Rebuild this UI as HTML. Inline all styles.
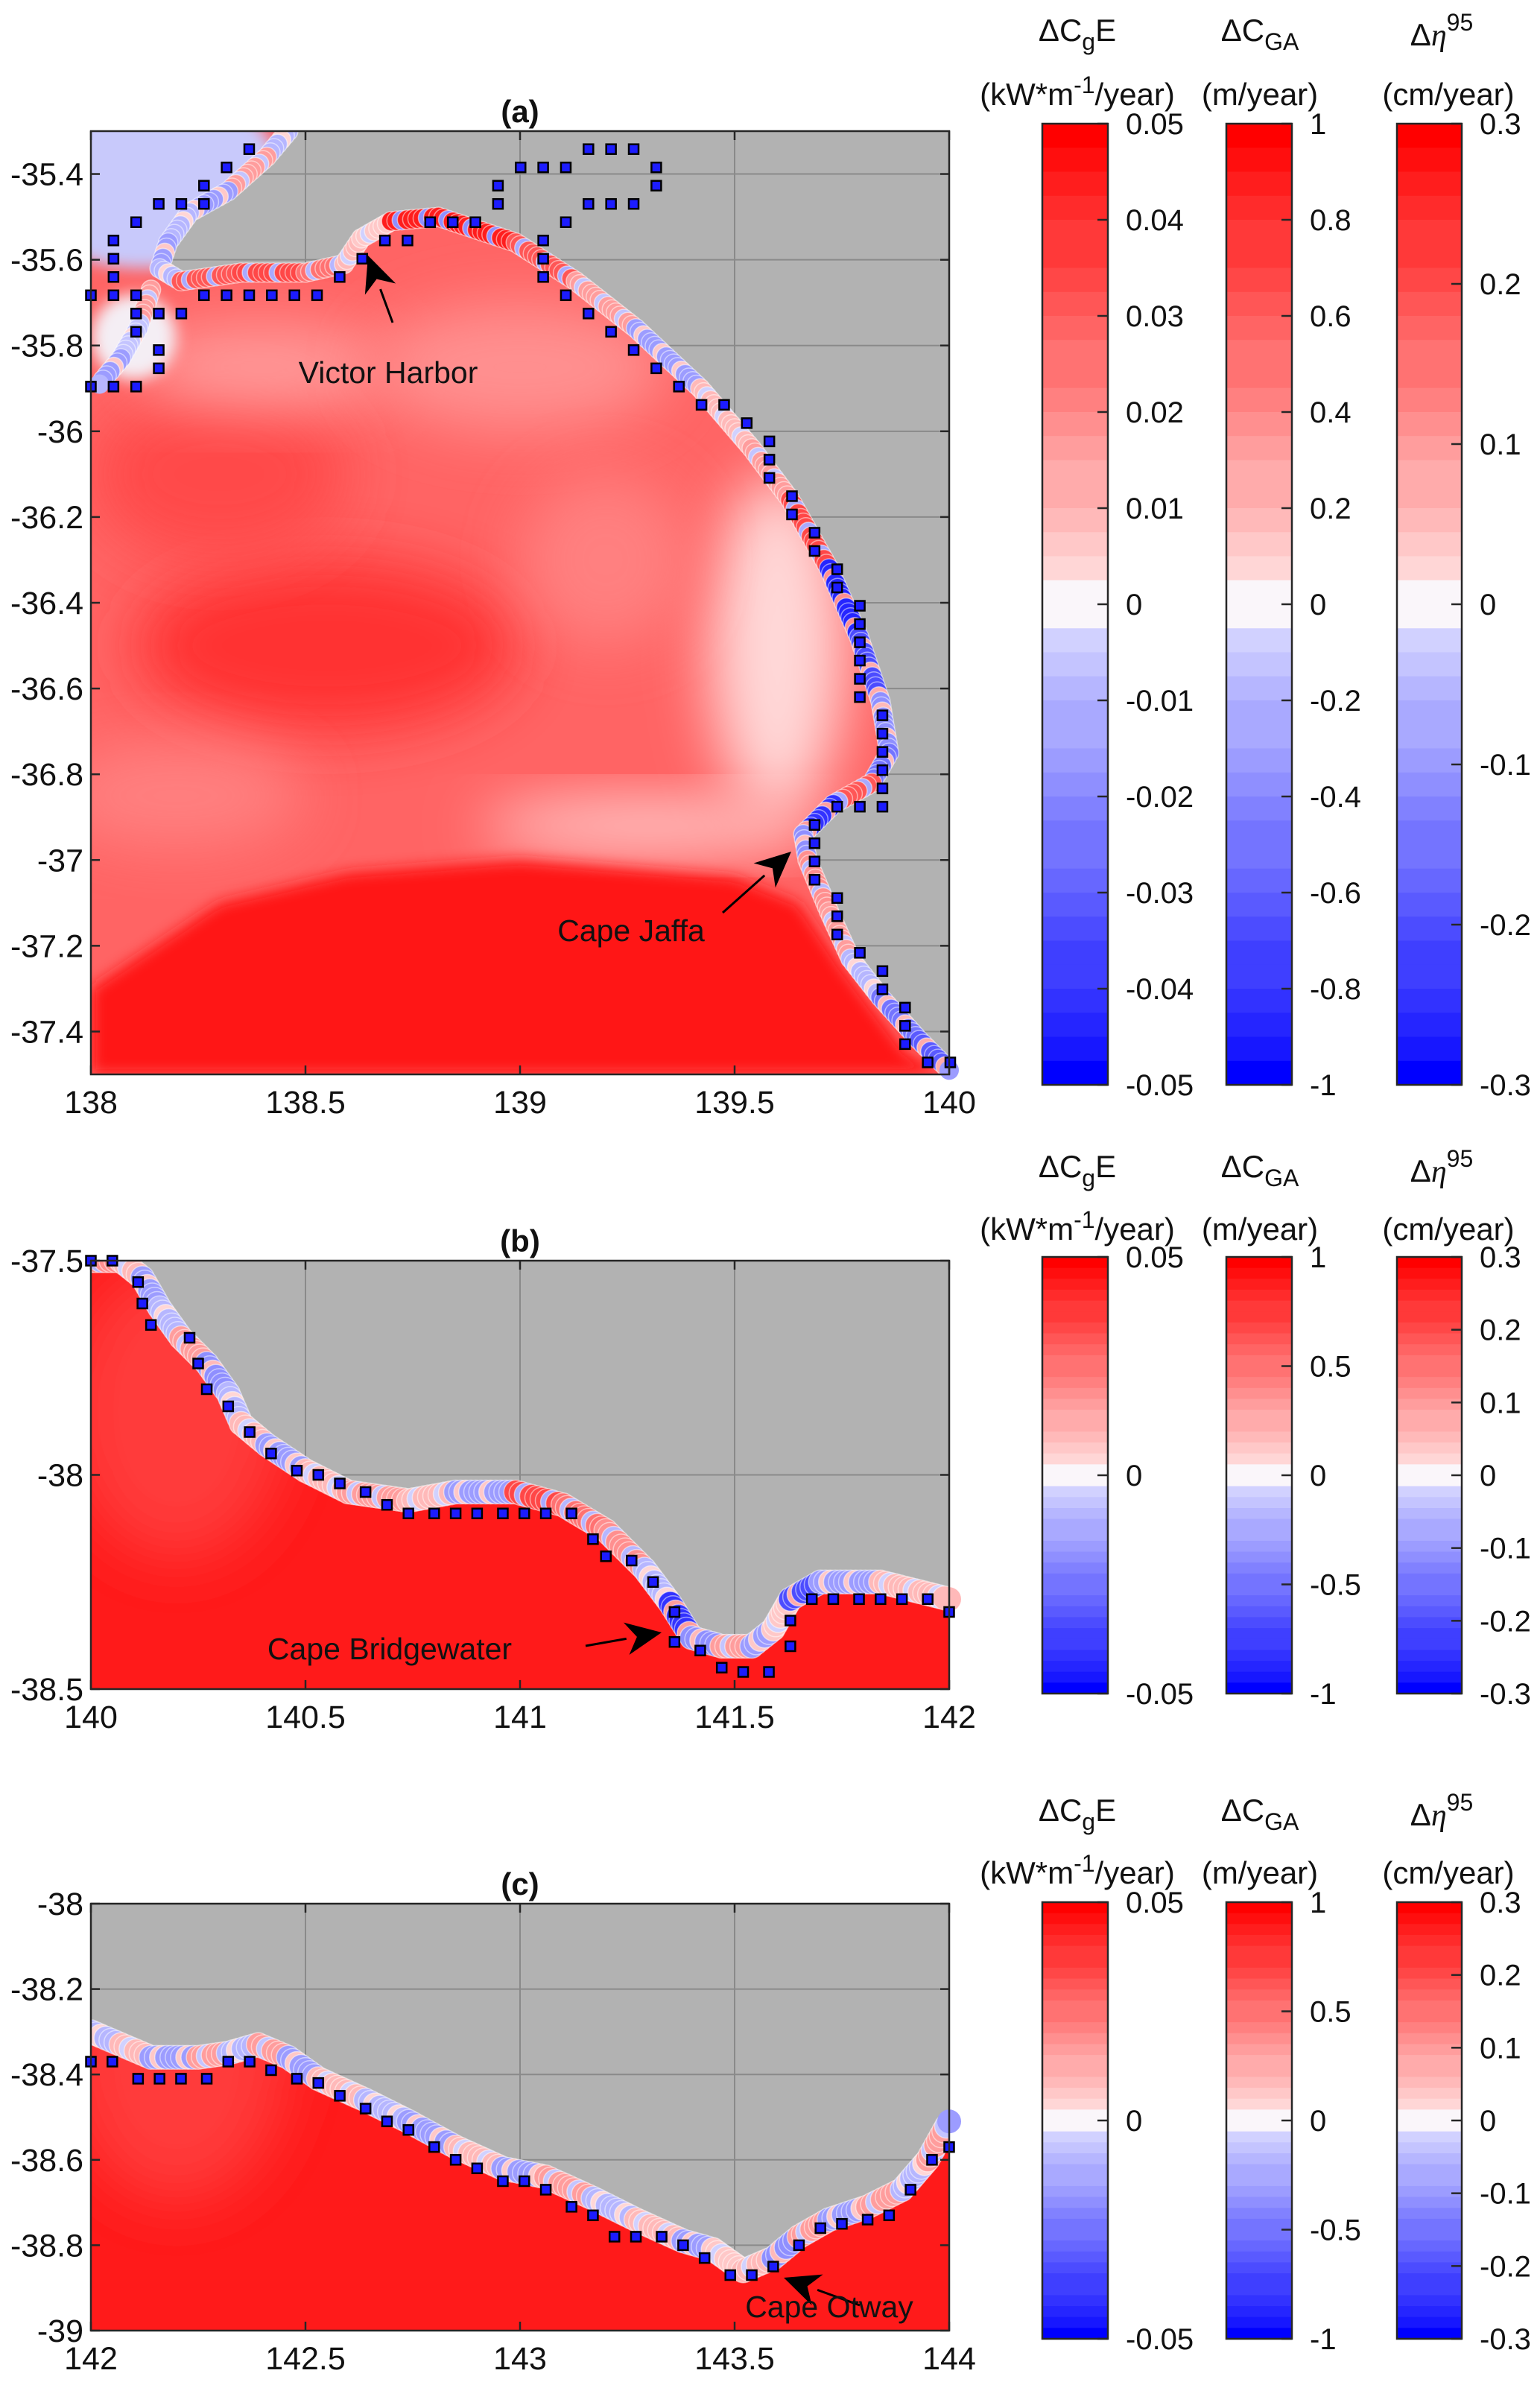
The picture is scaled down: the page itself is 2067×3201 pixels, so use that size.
<!DOCTYPE html>
<html><head><meta charset="utf-8">
<style>
html,body{margin:0;padding:0;background:#fff;}
svg{display:block;}
text{font-family:"Liberation Sans",Arial,sans-serif;fill:#111;}
</style></head>
<body>
<svg id="fig" width="2067" height="3201" viewBox="0 0 2067 3201" xmlns="http://www.w3.org/2000/svg">
<defs>
<filter id="blur" x="-50%" y="-50%" width="200%" height="200%"><feGaussianBlur stdDeviation="40"/></filter>
<filter id="blurS" x="-20%" y="-20%" width="140%" height="140%"><feGaussianBlur stdDeviation="10"/></filter>
</defs>
</svg>
<script>
// ---------------- DATA ----------------
const coastLonA=[138.46,138.41,138.32,138.23,138.18,138.16,138.21,138.35,138.50,138.59,138.63,138.70,138.81,138.99,139.13,139.27,139.42,139.54,139.63,139.72,139.79,139.84,139.86,139.82,139.73,139.66,139.67,139.72,139.77,139.84,139.93,140.00];
const coastLatA=[-35.30,-35.36,-35.44,-35.49,-35.56,-35.62,-35.65,-35.63,-35.63,-35.61,-35.55,-35.51,-35.50,-35.56,-35.65,-35.76,-35.90,-36.04,-36.16,-36.32,-36.48,-36.63,-36.75,-36.82,-36.87,-36.94,-37.00,-37.12,-37.23,-37.32,-37.42,-37.49];
const coastValA=[-0.2,0.3,-0.3,-0.2,-0.3,-0.2,0.6,0.7,0.5,0.2,0.1,0.9,0.9,0.6,0.3,-0.3,0.2,0.3,0.7,-0.9,-0.7,-0.4,-0.5,0.6,-0.8,-0.4,0.4,0.3,-0.2,-0.5,-0.6,-0.3];
const coast2LonA=[138.14,138.11,138.07,138.02];
const coast2LatA=[-35.67,-35.76,-35.83,-35.89];
const coast2ValA=[0.3,-0.1,-0.3,-0.2];
const gridA={lon0:138,dlon:0.0527,lat0:-35.342,dlat:-0.0426};
const sqColA=[7,6,5,5,4,3,2,1,1,1,0,1,2,2,3,4,2,3,3,0,1,2,5,6,7,8,9,10,11,12,13,14,15,16,17,18,18,19,20,21,22,23,24,25,25,24,23,22,21,20,20,20,21,22,23,24,25,26,27,28,29,30,30,30,31,31,32,32,33,33,34,34,34,34,34,34,35,35,35,35,35,35,34,33,32,32,32,32,33,33,33,34,35,35,36,36,36,37,38];
const sqRowA=[0,1,2,3,3,3,4,5,6,7,8,8,8,9,9,9,10,11,12,13,13,13,8,8,8,8,8,8,7,6,5,5,4,4,4,3,2,1,1,1,0,0,0,1,2,3,3,3,4,5,6,7,8,9,10,11,12,13,14,14,15,16,17,18,19,20,21,22,23,24,25,26,27,28,29,30,31,32,33,34,35,36,36,36,37,38,39,40,41,42,43,44,45,46,47,48,49,50,50];
const coastLonB=[140.00,140.07,140.12,140.16,140.21,140.27,140.32,140.35,140.41,140.50,140.60,140.74,140.85,140.99,141.10,141.20,141.29,141.35,141.40,141.47,141.54,141.59,141.63,141.70,141.84,142.00];
const coastLatB=[-37.50,-37.50,-37.54,-37.61,-37.68,-37.74,-37.81,-37.88,-37.93,-37.99,-38.04,-38.06,-38.04,-38.04,-38.07,-38.13,-38.22,-38.30,-38.38,-38.40,-38.40,-38.36,-38.29,-38.25,-38.25,-38.29];
const coastValB=[0.4,0.2,-0.3,-0.2,0.3,-0.4,-0.2,0.2,-0.3,0.2,0.3,0.2,-0.3,0.7,0.5,0.4,-0.2,-0.8,-0.4,0.3,-0.3,0.1,-0.7,-0.3,0.2,0.2];
const sqLonB=[140.00,140.05,140.11,140.12,140.14,140.23,140.25,140.27,140.32,140.37,140.42,140.48,140.53,140.58,140.64,140.69,140.74,140.80,140.85,140.90,140.96,141.01,141.06,141.12,141.17,141.20,141.26,141.31,141.36,141.36,141.42,141.47,141.52,141.58,141.63,141.63,141.68,141.73,141.79,141.84,141.89,141.95,142.00];
const sqLatB=[-37.50,-37.50,-37.55,-37.60,-37.65,-37.68,-37.74,-37.80,-37.84,-37.90,-37.95,-37.99,-38.00,-38.02,-38.04,-38.07,-38.09,-38.09,-38.09,-38.09,-38.09,-38.09,-38.09,-38.09,-38.15,-38.19,-38.20,-38.25,-38.32,-38.39,-38.41,-38.45,-38.46,-38.46,-38.40,-38.34,-38.29,-38.29,-38.29,-38.29,-38.29,-38.29,-38.32];
const coastLonC=[142.00,142.07,142.14,142.25,142.32,142.39,142.46,142.53,142.64,142.74,142.85,142.96,143.06,143.17,143.27,143.38,143.45,143.52,143.59,143.65,143.72,143.81,143.89,143.95,144.00];
const coastLatC=[-38.30,-38.33,-38.36,-38.36,-38.35,-38.33,-38.36,-38.41,-38.46,-38.51,-38.57,-38.62,-38.64,-38.69,-38.74,-38.79,-38.81,-38.86,-38.83,-38.78,-38.74,-38.71,-38.67,-38.60,-38.51];
const coastValC=[-0.2,0.2,-0.3,0.3,-0.2,0.3,-0.3,0.2,-0.2,-0.3,0.2,-0.3,0.3,-0.2,0.2,-0.3,0.1,0.2,-0.4,0.3,-0.3,0.3,-0.2,0.3,-0.3];
const sqLonC=[142.00,142.05,142.11,142.16,142.21,142.27,142.32,142.37,142.42,142.48,142.53,142.58,142.64,142.69,142.74,142.80,142.85,142.90,142.96,143.01,143.06,143.12,143.17,143.22,143.27,143.33,143.38,143.43,143.49,143.54,143.59,143.65,143.70,143.75,143.81,143.86,143.91,143.96,144.00];
const sqLatC=[-38.37,-38.37,-38.41,-38.41,-38.41,-38.41,-38.37,-38.37,-38.39,-38.41,-38.42,-38.45,-38.48,-38.51,-38.53,-38.57,-38.60,-38.62,-38.65,-38.65,-38.67,-38.71,-38.73,-38.78,-38.78,-38.78,-38.80,-38.83,-38.87,-38.87,-38.85,-38.80,-38.76,-38.75,-38.74,-38.73,-38.67,-38.60,-38.57];
const xTicksA=[138,138.5,139,139.5,140], yTicksA=[-35.4,-35.6,-35.8,-36,-36.2,-36.4,-36.6,-36.8,-37,-37.2,-37.4];
const xTicksB=[140,140.5,141,141.5,142], yTicksB=[-37.5,-38,-38.5];
const xTicksC=[142,142.5,143,143.5,144], yTicksC=[-38,-38.2,-38.4,-38.6,-38.8,-39];
const cbTicksA=[[0.05,0.04,0.03,0.02,0.01,0,-0.01,-0.02,-0.03,-0.04,-0.05],[1,0.8,0.6,0.4,0.2,0,-0.2,-0.4,-0.6,-0.8,-1],[0.3,0.2,0.1,0,-0.1,-0.2,-0.3]];
const cbTicksBC=[[0.05,0,-0.05],[1,0.5,0,-0.5,-1],[0.3,0.2,0.1,0,-0.1,-0.2,-0.3]];
const cbMax=[0.05,1,0.3];

// ---------------- DRAW ----------------
const NS='http://www.w3.org/2000/svg';
const svg=document.getElementById('fig');
function mk(tag,attrs,parent){const e=document.createElementNS(NS,tag);for(const k in attrs)e.setAttribute(k,attrs[k]);(parent||svg).appendChild(e);return e;}
function cmap(v){v=Math.max(-1,Math.min(1,v));const q=Math.round(v*16)/16;
 if(Math.abs(v)<0.03)return 'rgb(250,246,250)';
 if(q>=0){const g=Math.round(228*(1-q));return `rgb(255,${g},${g})`;}
 const a=-q;const r=Math.round(222*(1-a)+10*a);return `rgb(${r},${r},255)`;}

const panels=[
 {id:'a',lon:[138,140],lat:[-35.3,-37.5],x:[122,1274],y:[176,1442],xt:xTicksA,yt:yTicksA,cb:cbTicksA,cby:[166,1456],lab:[55,141],
  coast:[coastLonA,coastLatA,coastValA],r:13,sea:'#ff6464'},
 {id:'b',lon:[140,142],lat:[-37.5,-38.5],x:[122,1274],y:[1692,2267],xt:xTicksB,yt:yTicksB,cb:cbTicksBC,cby:[1687,2273],lab:[1580,1664],
  coast:[coastLonB,coastLatB,coastValB],r:16,sea:'#ff1a1a'},
 {id:'c',lon:[142,144],lat:[-38,-39],x:[122,1274],y:[2555,3128],xt:xTicksC,yt:yTicksC,cb:cbTicksBC,cby:[2553,3139],lab:[2444,2528],
  coast:[coastLonC,coastLatC,coastValC],r:16,sea:'#ff1a1a'}
];
const cbX=[[1399,1487],[1646,1734],[1875,1962]];

panels.forEach(P=>{
 const X=lon=>P.x[0]+(lon-P.lon[0])/(P.lon[1]-P.lon[0])*(P.x[1]-P.x[0]);
 const Y=lat=>P.y[0]+(lat-P.lat[0])/(P.lat[1]-P.lat[0])*(P.y[1]-P.y[0]);
 const g=mk('g',{});
 
 
 const w=P.x[1]-P.x[0],h=P.y[1]-P.y[0];
 const cp=mk('clipPath',{id:'clip'+P.id},g);mk('rect',{x:P.x[0],y:P.y[0],width:w,height:h},cp);
 const land=mk('rect',{x:P.x[0],y:P.y[0],width:w,height:h,fill:'#b2b2b2'},g);
 
 
 P.xt.forEach(t=>{const l=mk('line',{x1:X(t),x2:X(t),y1:P.y[0],y2:P.y[1],stroke:'#8a8a8a','stroke-width':2},g);
  });
 P.yt.forEach(t=>{const l=mk('line',{x1:P.x[0],x2:P.x[1],y1:Y(t),y2:Y(t),stroke:'#8a8a8a','stroke-width':2},g);
  });
 const inner=mk('g',{'clip-path':'url(#clip'+P.id+')'},g);
 const [cl,ct,cv]=P.coast;
 let pts=[];
 if(P.id==='a'){pts.push([138,-35.3]);}
 else {pts.push([P.lon[0],P.lat[1]]);}
 for(let i=0;i<cl.length;i++)pts.push([cl[i],ct[i]]);
 if(P.id==='a'){pts.push([140,-37.5]);pts.push([138,-37.5]);}
 else {pts.push([P.lon[1],P.lat[1]]);}
 const spts=pts.map(p=>X(p[0]).toFixed(1)+','+Y(p[1]).toFixed(1)).join(' ');
 const scp=mk('clipPath',{id:'sea'+P.id},g);mk('polygon',{points:spts},scp);
 const sea=mk('g',{'clip-path':'url(#sea'+P.id+')'},inner);
 
 
 mk('polygon',{points:spts,fill:P.sea},sea);
 if(P.id==='a'){
  const blobs=[[138.55,-36.5,0.45,0.2,'#ff3030'],[138.3,-36.1,0.3,0.2,'#ff4848'],[139.6,-36.5,0.16,0.4,'#ffd8d8'],[139.3,-36.92,0.4,0.06,'#ffd0d0'],[138.4,-35.85,0.3,0.1,'#ff9a9a'],[139.0,-35.85,0.35,0.15,'#ff9090'],[138.2,-36.85,0.3,0.12,'#ff8080'],[139.2,-36.3,0.2,0.2,'#ff8080']];
  blobs.forEach(b=>mk('ellipse',{cx:X(b[0]),cy:Y(b[1]),rx:b[2]*570,ry:b[3]*575,fill:b[4],filter:'url(#blur)'},sea));
  mk('ellipse',{cx:X(138.12),cy:Y(-35.4),rx:0.32*570,ry:0.22*575,fill:'#c8c9fb',filter:'url(#blurS)'},sea);
  mk('ellipse',{cx:X(138.1),cy:Y(-35.78),rx:0.1*570,ry:0.1*575,fill:'#f4eef4',filter:'url(#blurS)'},sea);
  const deep=[[138,-37.3],[138.3,-37.1],[138.6,-37.03],[139.0,-37.0],[139.5,-37.04],[139.65,-37.1],[139.75,-37.25],[139.9,-37.45],[140,-37.5],[138,-37.5]];
  mk('polygon',{points:deep.map(p=>X(p[0])+','+Y(p[1])).join(' '),fill:'#ff1212',filter:'url(#blurS)'},sea);
 } else {
  mk('ellipse',{cx:X(P.lon[0]+0.2),cy:Y(P.lat[0]-0.35),rx:150,ry:200,fill:'#ff3a3a',filter:'url(#blur)'},sea);
 }
 function drawCoast(L,T,V,tag){
  for(let i=0;i<L.length-1;i++){
   const x1=X(L[i]),y1=Y(T[i]),x2=X(L[i+1]),y2=Y(T[i+1]);
   const n=Math.max(1,Math.round(Math.hypot(x2-x1,y2-y1)/7));
   for(let k=0;k<n;k++){const f=k/n;
    const c=mk('circle',{cx:x1+(x2-x1)*f,cy:y1+(y2-y1)*f,r:P.r,fill:cmap(k%5===2?-V[i]*0.4:V[i]),stroke:'rgba(255,255,255,0.5)','stroke-width':1.5},inner);
    
    }
  }
  const c=mk('circle',{cx:X(L[L.length-1]),cy:Y(T[T.length-1]),r:P.r,fill:cmap(V[V.length-1])},g);
  
  
 }
 drawCoast(cl,ct,cv,P.id);
 if(P.id==='a')drawCoast(coast2LonA,coast2LatA,coast2ValA,'a');
 let sl=[],st=[];
 if(P.id==='a'){for(let i=0;i<sqColA.length;i++){sl.push(gridA.lon0+sqColA[i]*gridA.dlon);st.push(gridA.lat0+sqRowA[i]*gridA.dlat);}}
 else if(P.id==='b'){sl=sqLonB;st=sqLatB;} else {sl=sqLonC;st=sqLatC;}
 for(let i=0;i<sl.length;i++){
  const s=mk('rect',{x:X(sl[i])-6.5,y:Y(st[i])-6.5,width:13,height:13,fill:'#1c1cff',stroke:'#000','stroke-width':2.5},g);
  
  
 }
 const box=mk('rect',{x:P.x[0],y:P.y[0],width:w,height:h,fill:'none',stroke:'#262626','stroke-width':2.5},g);
 
 
 P.xt.forEach(t=>{mk('line',{x1:X(t),x2:X(t),y1:P.y[1],y2:P.y[1]-12,stroke:'#262626','stroke-width':2.5},g);
  mk('line',{x1:X(t),x2:X(t),y1:P.y[0],y2:P.y[0]+12,stroke:'#262626','stroke-width':2.5},g);
  const tx=mk('text',{x:X(t),y:P.y[1]+52,'font-size':43,'text-anchor':'middle'},g);tx.textContent=String(t);
  });
 P.yt.forEach(t=>{mk('line',{x1:P.x[0],x2:P.x[0]+12,y1:Y(t),y2:Y(t),stroke:'#262626','stroke-width':2.5},g);
  mk('line',{x1:P.x[1],x2:P.x[1]-12,y1:Y(t),y2:Y(t),stroke:'#262626','stroke-width':2.5},g);
  const tx=mk('text',{x:112,y:Y(t)+15,'font-size':43,'text-anchor':'end'},g);tx.textContent=String(t);
  });
 const ttl=mk('text',{x:(P.x[0]+P.x[1])/2,y:P.y[0]-12,'font-size':42,'font-weight':'bold','text-anchor':'middle'},g);
 ttl.textContent='('+P.id+')';
 
 for(let c=0;c<3;c++){
  const [x0,x1]=cbX[c],[y0,y1]=P.cby;const cg=mk('g',{},g);
  
  
  const N=40,bh=(y1-y0)/N;
  for(let i=0;i<N;i++){const v=1-(i+0.5)/N*2;
   const col=i===0?'#ff0000':(i===N-1?'#0000ff':cmap(v));
   mk('rect',{x:x0,y:y0+i*bh,width:x1-x0,height:bh+0.6,fill:col},cg);}
  mk('rect',{x:x0,y:y0,width:x1-x0,height:y1-y0,fill:'none',stroke:'#262626','stroke-width':2.5},cg);
  const M=cbMax[c];
  P.cb[c].forEach(t=>{const yy=y0+(M-t)/(2*M)*(y1-y0);
   mk('line',{x1:x1,x2:x1-14,y1:yy,y2:yy,stroke:'#262626','stroke-width':2.5},cg);
   const tx=mk('text',{x:x1+24,y:yy+14,'font-size':40},cg);tx.textContent=String(t);
   });
 }
 const l1=mk('text',{x:1446,y:P.lab[0],'font-size':42,'text-anchor':'middle'},g);
 l1.innerHTML='ΔC<tspan font-size="32" dy="12">g</tspan><tspan dy="-12">E</tspan>';
 
 const u1=mk('text',{x:1446,y:P.lab[1],'font-size':42,'text-anchor':'middle'},g);
 u1.innerHTML='(kW*m<tspan font-size="32" dy="-16">-1</tspan><tspan dy="16">/year)</tspan>';
 
 const l2=mk('text',{x:1691,y:P.lab[0],'font-size':42,'text-anchor':'middle'},g);
 l2.innerHTML='ΔC<tspan font-size="32" dy="12">GA</tspan>';
 
 const u2=mk('text',{x:1691,y:P.lab[1],'font-size':42,'text-anchor':'middle'},g);
 u2.textContent='(m/year)';
 
 const l3=mk('text',{x:1935,y:P.lab[0]+6,'font-size':42,'text-anchor':'middle'},g);
 l3.innerHTML='Δ<tspan font-style="italic" font-family="Liberation Serif, serif">η</tspan><tspan font-size="32" dy="-20">95</tspan>';
 
 const u3=mk('text',{x:1944,y:P.lab[1],'font-size':42,'text-anchor':'middle'},g);
 u3.textContent='(cm/year)';
 
});

function arrow(x1,y1,x2,y2,name){
 const g=mk('g',{});
 
 
 const a=Math.atan2(y2-y1,x2-x1),L=48,W=22;
 const bx=x2-L*Math.cos(a),by=y2-L*Math.sin(a);
 mk('line',{x1:x1,y1:y1,x2:bx,y2:by,stroke:'#000','stroke-width':3},g);
 const nx=-Math.sin(a),ny=Math.cos(a);
 const ix=x2-L*0.7*Math.cos(a),iy=y2-L*0.7*Math.sin(a);
 mk('polygon',{points:`${x2},${y2} ${bx+nx*W},${by+ny*W} ${ix},${iy} ${bx-nx*W},${by-ny*W}`,fill:'#000'},g);
}
function label(x,y,t,name){const e=mk('text',{x:x,y:y,'font-size':41,'text-anchor':'middle'});e.textContent=t;
 }
arrow(527,433,494,343,'arrow-victor-harbor');
label(521,514,'Victor Harbor','label-victor-harbor');
arrow(970,1225,1062,1143,'arrow-cape-jaffa');
label(847,1263,'Cape Jaffa','label-cape-jaffa');
arrow(786,2209,888,2191,'arrow-cape-bridgewater');
label(523,2227,'Cape Bridgewater','label-cape-bridgewater');
arrow(1154,3094,1052,3057,'arrow-cape-otway');
label(1113,3110,'Cape Otway','label-cape-otway');
</script>
</body></html>
